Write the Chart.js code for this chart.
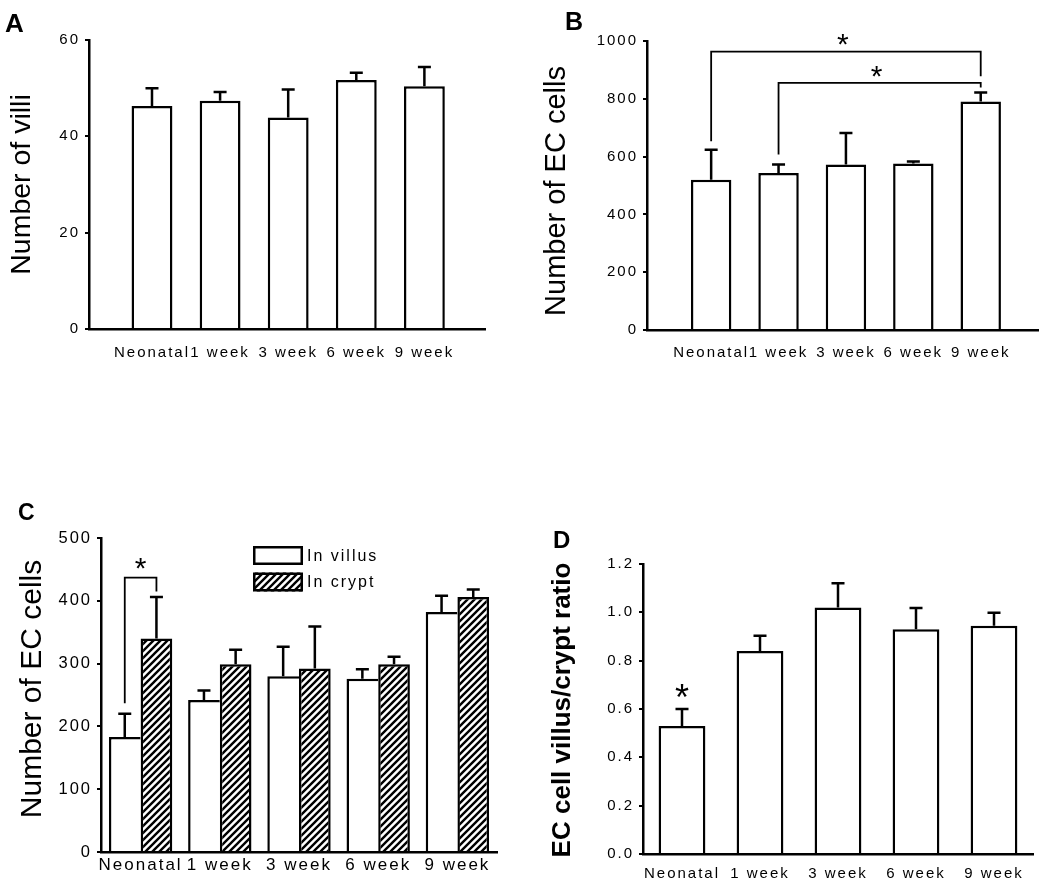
<!DOCTYPE html>
<html>
<head>
<meta charset="utf-8">
<script src="https://cdn.jsdelivr.net/npm/chart.js@4.4.1/dist/chart.umd.min.js"></script>
<style>
html,body{margin:0;padding:0;background:#fff;}
body{width:1050px;height:888px;position:relative;overflow:hidden;}
.panel{position:absolute;}
canvas{display:block;}
</style>
</head>
<body>
<div class="panel" style="left:0px;top:0px"><canvas id="cA" width="525" height="400"></canvas></div>
<div class="panel" style="left:525px;top:0px"><canvas id="cB" width="525" height="400"></canvas></div>
<div class="panel" style="left:0px;top:430px"><canvas id="cC" width="525" height="458"></canvas></div>
<div class="panel" style="left:525px;top:430px"><canvas id="cD" width="525" height="458"></canvas></div>
<script>
// ---------------- data ----------------
const categories = ['Neonatal', '1 week', '3 week', '6 week', '9 week'];

const villiMean = [46.3, 47.4, 43.9, 51.7, 50.4];
const villiSem  = [3.7, 1.8, 5.8, 1.5, 4.0];

const ecMean = [520, 543, 573, 576, 791];
const ecSem  = [104, 30, 109, 7, 31];

const villusMean = [183, 242, 280, 276, 382];
const villusSem  = [37, 15, 47, 15, 26];
const cryptMean  = [340, 299, 292, 299, 406];
const cryptSem   = [66, 23, 67, 12, 12];

const ratioMean = [0.53, 0.84, 1.02, 0.93, 0.945];
const ratioSem  = [0.07, 0.063, 0.10, 0.088, 0.053];

const yTicksA = [0, 20, 40, 60];
const yTicksB = [0, 200, 400, 600, 800, 1000];
const yTicksC = [0, 100, 200, 300, 400, 500];
const yTicksD = [0, 0.2, 0.4, 0.6, 0.8, 1.0, 1.2];

// significance brackets (values in data units): from/to = [dataset, index]
const sigB = [
  {from: [0, 0], to: [0, 4], top: 963, leftEnd: 653, rightEnd: 878, star: 1013},
  {from: [0, 1], to: [0, 4], top: 855, leftEnd: 607, rightEnd: 839, star: 902}
];
const sigC = [
  {from: [0, 0], to: [1, 0], top: 437, leftEnd: 237, rightEnd: 415, star: 463}
];
const starsD = [{at: [0, 0], value: 0.68}];

// ---------------- setup ----------------
const FAMILY = '"Liberation Sans", Arial, Helvetica, sans-serif';
Chart.defaults.font.family = FAMILY;
Chart.defaults.color = '#000';
const YW = 62, XH = 30;

function layoutPad(box, area) {
  return {
    left: area.l - box.x - YW,
    top: area.t - box.y,
    right: box.x + box.w - area.r,
    bottom: box.y + box.h - area.b - XH
  };
}

function hatchPattern() {
  const s = 7;
  const c = document.createElement('canvas');
  c.width = s; c.height = s;
  const g = c.getContext('2d');
  g.fillStyle = '#fff'; g.fillRect(0, 0, s, s);
  g.strokeStyle = '#000'; g.lineWidth = 2.4;
  g.beginPath();
  g.moveTo(-1, s + 1); g.lineTo(s + 1, -1);
  g.moveTo(-1, 1); g.lineTo(1, -1);
  g.moveTo(s - 1, s + 1); g.lineTo(s + 1, s - 1);
  g.stroke();
  return document.createElement('canvas').getContext('2d').createPattern(c, 'repeat');
}

function makeDeco(spec) {
  return {
    id: 'deco',
    beforeDraw(chart) { chart.ctx.letterSpacing = '2px'; },
    afterDatasetsDraw(chart) {
      const ctx = chart.ctx, ys = chart.scales.y;
      chart.data.datasets.forEach((ds, di) => {
        if (!ds.errors) return;
        const meta = chart.getDatasetMeta(di);
        meta.data.forEach((el, i) => {
          const raw = ds.data[i];
          const val = (typeof raw === 'object') ? raw.y : raw;
          const top = ys.getPixelForValue(val + ds.errors[i]);
          ctx.save();
          ctx.strokeStyle = '#000'; ctx.lineWidth = 2.5;
          ctx.beginPath();
          ctx.moveTo(el.x, el.y); ctx.lineTo(el.x, top);
          ctx.moveTo(el.x - 6.5, top); ctx.lineTo(el.x + 6.5, top);
          ctx.stroke();
          ctx.restore();
        });
      });
    },
    afterDraw(chart) {
      const ctx = chart.ctx, ys = chart.scales.y;
      const px = (ref) => chart.getDatasetMeta(ref[0]).data[ref[1]].x;
      function star(x, value, size) {
        ctx.save();
        ctx.letterSpacing = '0px';
        ctx.font = size + 'px ' + FAMILY;
        ctx.fillStyle = '#000';
        ctx.textAlign = 'center';
        ctx.textBaseline = 'alphabetic';
        ctx.fillText('*', x, ys.getPixelForValue(value) + 0.57 * size);
        ctx.restore();
      }
      // brackets
      (spec.brackets || []).forEach(b => {
        const x1 = px(b.from), x2 = px(b.to);
        const yt = ys.getPixelForValue(b.top);
        ctx.save();
        ctx.strokeStyle = '#000'; ctx.lineWidth = 1.8;
        ctx.beginPath();
        ctx.moveTo(x1, ys.getPixelForValue(b.leftEnd));
        ctx.lineTo(x1, yt); ctx.lineTo(x2, yt);
        ctx.lineTo(x2, ys.getPixelForValue(b.rightEnd));
        ctx.stroke();
        ctx.restore();
        star((x1 + x2) / 2 + (spec.starDx || 0), b.star, spec.starSize);
      });
      (spec.stars || []).forEach(s => star(px(s.at), s.value, spec.starSize));
      // legend
      if (spec.legend) {
        const L = spec.legend;
        chart.data.datasets.forEach((ds, i) => {
          const y0 = L.y + i * L.pitch;
          ctx.save();
          ctx.fillStyle = ds.backgroundColor;
          ctx.fillRect(L.x, y0, L.w, L.h);
          ctx.strokeStyle = '#000'; ctx.lineWidth = 2.5;
          ctx.strokeRect(L.x + 1.25, y0 + 1.25, L.w - 2.5, L.h - 2.5);
          ctx.letterSpacing = '2px';
          ctx.font = '16px ' + FAMILY;
          ctx.fillStyle = '#000';
          ctx.textAlign = 'left'; ctx.textBaseline = 'middle';
          ctx.fillText(ds.label, L.x + L.w + 4, y0 + L.h / 2 + 1);
          ctx.restore();
        });
      }
      // axis title (rotated)
      const t = spec.title;
      ctx.save();
      ctx.letterSpacing = '0px';
      ctx.font = t.font;
      ctx.fillStyle = '#000';
      ctx.translate(t.x, t.y);
      ctx.rotate(-Math.PI / 2);
      ctx.textAlign = 'center'; ctx.textBaseline = 'alphabetic';
      ctx.fillText(t.text, 0, 0);
      ctx.restore();
      // panel letter
      const p = spec.letter;
      ctx.save();
      ctx.letterSpacing = '0px';
      ctx.font = p.font;
      ctx.fillStyle = '#000';
      ctx.textAlign = 'left'; ctx.textBaseline = 'alphabetic';
      ctx.fillText(p.text, p.x, p.y);
      ctx.restore();
    }
  };
}

function yScale(ticks, max, fmt, size) {
  return {
    type: 'linear', min: 0, max: max,
    afterBuildTicks: s => { s.ticks = ticks.map(v => ({value: v})); },
    ticks: {padding: 5, color: '#000', font: {size: size || 15}, callback: fmt},
    grid: {display: true, drawOnChartArea: false, drawTicks: true, tickLength: 4, color: '#000', lineWidth: 2},
    border: {display: true, color: '#000', width: 2.5},
    afterFit: s => { s.width = YW; }
  };
}
function xLinear(min, max, pad) {
  return {
    type: 'linear', min: min, max: max, offset: false,
    afterBuildTicks: s => { s.ticks = categories.map((c, i) => ({value: i})); },
    ticks: {autoSkip: false, maxRotation: 0, minRotation: 0, padding: pad, color: '#000', font: {size: 15},
            callback: v => categories[v]},
    grid: {display: false, drawTicks: false},
    border: {display: true, color: '#000', width: 2.5},
    afterFit: s => { s.height = XH; }
  };
}
function xCategory(pad, size) {
  return {
    type: 'category', offset: true,
    ticks: {autoSkip: false, maxRotation: 0, minRotation: 0, padding: pad, color: '#000', font: {size: size || 15}},
    grid: {display: false, drawTicks: false, offset: true},
    border: {display: true, color: '#000', width: 2.5},
    afterFit: s => { s.height = XH; }
  };
}
function baseOptions(box, area, scales) {
  return {
    responsive: false, animation: false, events: [],
    layout: {padding: layoutPad(box, area)},
    plugins: {legend: {display: false}, tooltip: {enabled: false}},
    scales: scales
  };
}
const asInt = v => String(v);

// ---------------- Panel A ----------------
const boxA = {x: 0, y: 0, w: 525, h: 400};
const areaA = {l: 89, t: 40, r: 485, b: 329};
new Chart(document.getElementById('cA'), {
  type: 'bar',
  data: {datasets: [{
    label: 'Number of villi',
    data: villiMean.map((v, i) => ({x: i, y: v})),
    errors: villiSem,
    backgroundColor: '#fff', borderColor: '#000', borderWidth: 2.5,
    barPercentage: 0.6, categoryPercentage: 1
  }]},
  options: baseOptions(boxA, areaA, {
    x: xLinear(-0.925, 4.89, 15),
    y: yScale(yTicksA, 60, asInt)
  }),
  plugins: [makeDeco({
    starSize: 30,
    title: {text: 'Number of villi', x: 30, y: 184.5, font: '28.5px ' + FAMILY},
    letter: {text: 'A', x: 5, y: 32, font: 'bold 26px ' + FAMILY}
  })]
});

// ---------------- Panel B ----------------
const boxB = {x: 525, y: 0, w: 525, h: 400};
const areaB = {l: 647, t: 41, r: 1038, b: 330};
new Chart(document.getElementById('cB'), {
  type: 'bar',
  data: {datasets: [{
    label: 'Number of EC cells',
    data: ecMean.map((v, i) => ({x: i, y: v})),
    errors: ecSem,
    backgroundColor: '#fff', borderColor: '#000', borderWidth: 2.5,
    barPercentage: 0.6, categoryPercentage: 1
  }]},
  options: baseOptions(boxB, areaB, {
    x: xLinear(-0.952, 4.85, 14),
    y: yScale(yTicksB, 1000, asInt)
  }),
  plugins: [makeDeco({
    starSize: 30,
    starDx: -3,
    brackets: sigB,
    title: {text: 'Number of EC cells', x: 565 - 525, y: 191, font: '29px ' + FAMILY},
    letter: {text: 'B', x: 565 - 525, y: 30, font: 'bold 25px ' + FAMILY}
  })]
});

// ---------------- Panel C ----------------
const boxC = {x: 0, y: 430, w: 525, h: 458};
const areaC = {l: 101, t: 538, r: 497, b: 852};
new Chart(document.getElementById('cC'), {
  type: 'bar',
  data: {
    labels: categories,
    datasets: [{
      label: 'In villus',
      data: villusMean, errors: villusSem,
      backgroundColor: '#fff', borderColor: '#000',
      borderWidth: {top: 2.5, left: 2.5, right: 0, bottom: 0}, borderSkipped: false,
      barPercentage: 1.0, categoryPercentage: 0.8
    }, {
      label: 'In crypt',
      data: cryptMean, errors: cryptSem,
      backgroundColor: hatchPattern(), borderColor: '#000', borderWidth: 2.5,
      barPercentage: 1.0, categoryPercentage: 0.8
    }]
  },
  options: baseOptions(boxC, areaC, {
    x: xCategory(3, 17),
    y: yScale(yTicksC, 500, asInt, 16.5)
  }),
  plugins: [makeDeco({
    starSize: 30,
    brackets: sigC,
    legend: {x: 253, y: 546 - 430, w: 50, h: 19, pitch: 26.5},
    title: {text: 'Number of EC cells', x: 41, y: 689 - 430, font: '30px ' + FAMILY},
    letter: {text: 'C', x: 18, y: 520 - 430, font: 'bold 23px ' + FAMILY}
  })]
});

// ---------------- Panel D ----------------
const boxD = {x: 525, y: 430, w: 525, h: 458};
const areaD = {l: 643, t: 564, r: 1033, b: 854};
new Chart(document.getElementById('cD'), {
  type: 'bar',
  data: {
    labels: categories,
    datasets: [{
      label: 'EC cell villus/crypt ratio',
      data: ratioMean, errors: ratioSem,
      backgroundColor: '#fff', borderColor: '#000', borderWidth: 2.5,
      barPercentage: 0.6, categoryPercentage: 1
    }]
  },
  options: baseOptions(boxD, areaD, {
    x: xCategory(11),
    y: yScale(yTicksD, 1.2, v => Number(v).toFixed(1))
  }),
  plugins: [makeDeco({
    starSize: 36,
    stars: starsD,
    title: {text: 'EC cell villus/crypt ratio', x: 570 - 525, y: 710 - 430, font: 'bold 26px ' + FAMILY},
    letter: {text: 'D', x: 553 - 525, y: 548 - 430, font: 'bold 24px ' + FAMILY}
  })]
});
</script>
</body>
</html>
